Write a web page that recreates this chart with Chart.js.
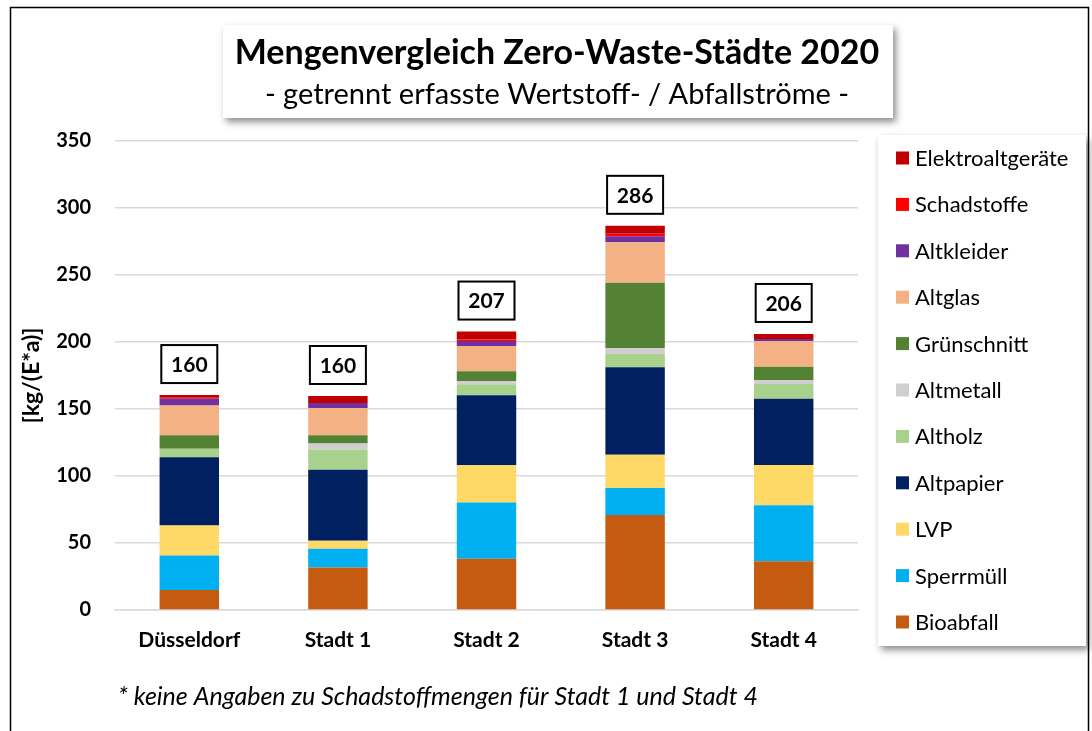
<!DOCTYPE html>
<html><head><meta charset="utf-8">
<script src="https://cdn.jsdelivr.net/npm/chart.js@4"></script>
<style>html,body{margin:0;padding:0;background:#fff;}#wrap{width:1092px;height:731px;}</style>
</head><body><div id="wrap"><canvas id="c" width="1092" height="731"></canvas></div>
<script>
// ---- data ----
const categories = ['Düsseldorf', 'Stadt 1', 'Stadt 2', 'Stadt 3', 'Stadt 4'];
const bioabfall       = [15.0, 31.7, 38.2, 70.9, 36.4];
const sperrmuell      = [25.6, 14.0, 42.1, 20.2, 41.7];
const lvp             = [22.5,  5.9, 27.7, 24.7, 30.2];
const altpapier       = [50.9, 53.0, 52.2, 65.3, 49.4];
const altholz         = [ 6.3, 15.2,  8.2, 10.0, 10.9];
const altmetall       = [ 0.0,  4.5,  2.5,  4.3,  2.8];
const gruenschnitt    = [10.2,  6.2,  7.2, 48.8, 10.2];
const altglas         = [22.2, 20.2, 19.0, 30.3, 19.0];
const altkleider      = [ 5.0,  3.7,  3.7,  4.5,  1.7];
const schadstoffe     = [ 0.7,  0.0,  1.0,  1.7,  0.0];
const elektroaltgeraete = [2.0, 5.3,  6.0,  6.0,  3.7];
const totals = [160, 160, 207, 286, 206];
const yTickValues = [0, 50, 100, 150, 200, 250, 300, 350];
const titleText = 'Mengenvergleich Zero-Waste-Städte 2020';
const subtitleText = '- getrennt erfasste Wertstoff- / Abfallströme -';
const yAxisTitle = '[kg/(E*a)]';
const footnote = '* keine Angaben zu Schadstoffmengen für Stadt 1 und Stadt 4';

const FONT = 'Lato, "Open Sans", sans-serif';

const series = [
  ['Bioabfall', bioabfall, '#C55A11'],
  ['Sperrmüll', sperrmuell, '#00B0F0'],
  ['LVP', lvp, '#FFD966'],
  ['Altpapier', altpapier, '#002060'],
  ['Altholz', altholz, '#A9D18E'],
  ['Altmetall', altmetall, '#D0CECE'],
  ['Grünschnitt', gruenschnitt, '#548235'],
  ['Altglas', altglas, '#F4B183'],
  ['Altkleider', altkleider, '#7030A0'],
  ['Schadstoffe', schadstoffe, '#FF0000'],
  ['Elektroaltgeräte', elektroaltgeraete, '#C00000']
];

const decor = {
  id: 'decor',
  beforeDraw(chart) {
    const ctx = chart.ctx;
    ctx.save();
    ctx.fillStyle = '#fff';
    ctx.fillRect(0, 0, chart.width, chart.height);
    // outer frame
    ctx.strokeStyle = '#000';
    ctx.lineWidth = 1.5;
    ctx.strokeRect(10.5, 7.5, 1078, 760);
    // shadowed boxes
    ctx.shadowColor = 'rgba(0,0,0,0.45)';
    ctx.shadowBlur = 7;
    ctx.shadowOffsetX = 3;
    ctx.shadowOffsetY = 4;
    ctx.fillStyle = '#fff';
    ctx.fillRect(223, 25, 670, 93);
    ctx.fillRect(878, 135, 208, 511);
    ctx.restore();
  },
  afterDatasetsDraw(chart) {
    const ctx = chart.ctx;
    const x = chart.scales.x, y = chart.scales.y;
    ctx.save();
    categories.forEach((c, i) => {
      let sum = 0;
      chart.data.datasets.forEach(d => sum += d.data[i]);
      const cx = x.getPixelForValue(i);
      const top = y.getPixelForValue(sum);
      const w = 56, h = 38;
      const bx = cx - w / 2, by = top - 12 - h;
      ctx.fillStyle = '#fff';
      ctx.fillRect(bx, by, w, h);
      ctx.strokeStyle = '#000';
      ctx.lineWidth = 2;
      ctx.strokeRect(bx, by, w, h);
      ctx.fillStyle = '#000';
      ctx.font = 'bold 21px ' + FONT;
      ctx.textAlign = 'center';
      ctx.textBaseline = 'middle';
      ctx.fillText(String(totals[i]), cx, by + h / 2 + 1);
    });
    ctx.restore();
  },
  afterDraw(chart) {
    const ctx = chart.ctx;
    ctx.save();
    ctx.fillStyle = '#000';
    ctx.textAlign = 'center';
    ctx.textBaseline = 'middle';
    ctx.font = 'bold 34px ' + FONT;
    ctx.fillText(titleText, 557, 53);
    ctx.font = '29px ' + FONT;
    ctx.fillText(subtitleText, 557, 95);
    // legend (top to bottom reversed order)
    const items = chart.data.datasets.slice().reverse();
    ctx.textAlign = 'left';
    ctx.font = '22px ' + FONT;
    items.forEach((d, k) => {
      const cy = 158 + k * 46.4;
      ctx.fillStyle = d.backgroundColor;
      ctx.fillRect(896, cy - 6.5, 13, 13);
      ctx.fillStyle = '#000';
      ctx.fillText(d.label, 915, cy + 1);
    });
    // footnote
    ctx.font = 'italic 25px ' + FONT;
    ctx.fillText(footnote, 118, 697);
    ctx.restore();
  }
};

new Chart(document.getElementById('c'), {
  type: 'bar',
  data: {
    labels: categories,
    datasets: series.map(s => ({
      label: s[0], data: s[1], backgroundColor: s[2], borderWidth: 0,
      categoryPercentage: 1.0, barPercentage: 0.4
    }))
  },
  options: {
    responsive: false,
    animation: false,
    devicePixelRatio: 1,
    layout: { padding: { left: 10, right: 234, top: 141, bottom: 61 } },
    plugins: { legend: { display: false }, title: { display: false }, tooltip: { enabled: false } },
    scales: {
      x: {
        stacked: true,
        grid: { display: false, drawTicks: false },
        border: { display: true, color: '#D9D9D9', width: 1.5 },
        ticks: { color: '#000', font: { family: FONT, size: 21, weight: 'bold' }, padding: 18 },
        afterFit(s) { s.height = 60; }
      },
      y: {
        stacked: true,
        min: 0, max: 350,
        afterBuildTicks(s) { s.ticks = yTickValues.map(v => ({ value: v })); },
        grid: { color: '#D9D9D9', lineWidth: 1.5, drawTicks: false },
        border: { display: false },
        ticks: { color: '#000', font: { family: FONT, size: 20, weight: 'bold' }, padding: 24 },
        title: { display: true, text: yAxisTitle, color: '#000', font: { family: FONT, size: 23, weight: 'bold' }, padding: { top: 8, bottom: 0 } },
        afterFit(s) { s.width = 105; }
      }
    }
  },
  plugins: [decor]
});
</script>
</body></html>
